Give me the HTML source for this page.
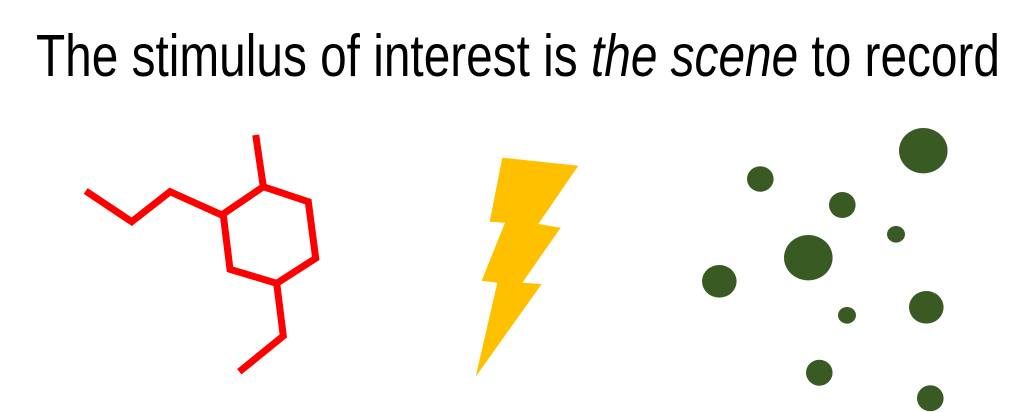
<!DOCTYPE html>
<html><head><meta charset="utf-8"><style>html,body{margin:0;padding:0;background:#fff}svg{display:block}</style></head>
<body>
<svg width="1034" height="412" viewBox="0 0 1034 412" xmlns="http://www.w3.org/2000/svg">
<text x="36" y="76" font-family="Liberation Sans, sans-serif" font-size="59" fill="#000" textLength="964" lengthAdjust="spacingAndGlyphs">The stimulus of interest is <tspan font-style="italic">the scene</tspan> to record</text>
<g fill="none" stroke="#ff0000" stroke-width="7" stroke-linejoin="miter">
<polyline points="85.7,191 131.7,221.7 170,191.7 221.7,215 263.3,186.7 308.3,201.7 315.7,258.3 276.7,283.3 230,269.3 223.3,215"/>
<line x1="255.7" y1="135" x2="263.3" y2="186.7"/>
<polyline points="276.7,283.3 283.3,336 239.3,371.7"/>
</g>
<polygon fill="#ffc000" points="502.3,157.7 578.3,165.7 538.3,224 560.7,227.7 522.3,282.7 541.7,284 475.7,376.7 497.3,282.7 481.7,280.7 505,222.7 489.7,221.7"/>
<g fill="#3a5a24">
<ellipse cx="923.3" cy="150.7" rx="24.3" ry="22.7"/>
<ellipse cx="760.3" cy="179" rx="13.3" ry="12.7"/>
<ellipse cx="842.3" cy="205" rx="13.3" ry="13"/>
<ellipse cx="896" cy="234.3" rx="9" ry="8.3"/>
<ellipse cx="808.3" cy="257.7" rx="24.3" ry="22.7"/>
<ellipse cx="719.3" cy="281.3" rx="17.3" ry="16.3"/>
<ellipse cx="926.3" cy="307.3" rx="17.3" ry="16.3"/>
<ellipse cx="847" cy="315.3" rx="9" ry="8.3"/>
<ellipse cx="819.3" cy="372.7" rx="13.3" ry="13"/>
<ellipse cx="930.3" cy="398.3" rx="13.3" ry="13"/>
</g>
</svg>
</body></html>
